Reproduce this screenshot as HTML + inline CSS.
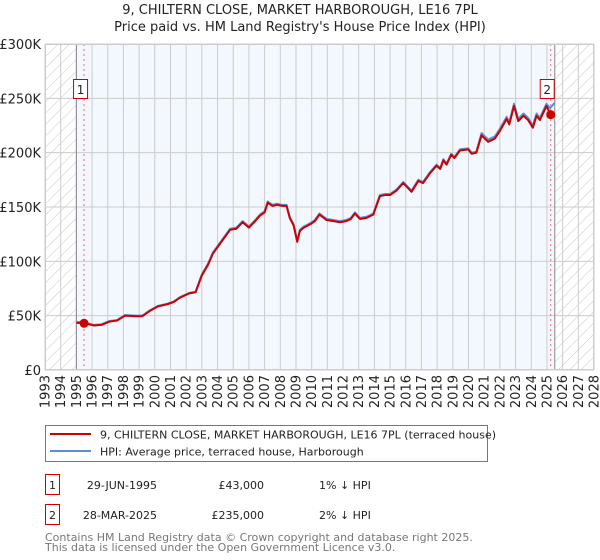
<!DOCTYPE html>
<html><head><meta charset="utf-8">
<style>
body{margin:0;background:#fff;font-family:"DejaVu Sans","Liberation Sans",sans-serif;}
#wrap{position:relative;width:600px;height:560px;overflow:hidden;}
</style></head>
<body><div id="wrap">
<svg id="svg" width="600" height="560" xmlns="http://www.w3.org/2000/svg" font-family="DejaVu Sans, Liberation Sans, sans-serif"></svg>
</div>
<script>
const hpiYears=[1995.0,1995.5,1996.1,1996.6,1997.1,1997.6,1998.1,1998.8,1999.2,1999.7,2000.2,2000.8,2001.2,2001.6,2002.2,2002.6,2003.0,2003.4,2003.7,2004.1,2004.5,2004.8,2005.2,2005.6,2006.0,2006.4,2006.7,2007.0,2007.2,2007.5,2007.8,2008.1,2008.4,2008.6,2008.85,2009.08,2009.25,2009.5,2009.9,2010.2,2010.5,2010.95,2011.4,2011.8,2012.2,2012.5,2012.76,2013.08,2013.5,2013.93,2014.35,2014.7,2015.0,2015.4,2015.84,2016.37,2016.8,2017.1,2017.54,2017.96,2018.2,2018.4,2018.6,2018.9,2019.1,2019.45,2019.98,2020.2,2020.5,2020.83,2021.25,2021.68,2022.0,2022.43,2022.6,2022.9,2023.17,2023.5,2023.8,2024.1,2024.34,2024.55,2024.97,2025.2,2025.5];
const hpiValues=[44,44,41.5,42,45,46,50.5,50,50,55,59,61,63,67,71,72,88,98,108,116,124,130,131,137,132,138,143,146,155,152,153,152,152,141,134,119,129,132,135,138,144,139,138,137,138,140,145,140,141,144,161,162,162,166,173,165,175,173,182,189,186,194,190,199,196,203,204,200,201,218,212,215,222,233,228,245,231,236,232,225,236,232,245,241,246];
const priceYears=[1995.0,1995.5,1996.1,1996.6,1997.1,1997.6,1998.1,1998.8,1999.2,1999.7,2000.2,2000.8,2001.2,2001.6,2002.2,2002.6,2003.0,2003.4,2003.7,2004.1,2004.5,2004.8,2005.2,2005.6,2006.0,2006.4,2006.7,2007.0,2007.2,2007.5,2007.8,2008.1,2008.4,2008.6,2008.85,2009.08,2009.25,2009.5,2009.9,2010.2,2010.5,2010.95,2011.4,2011.8,2012.2,2012.5,2012.76,2013.08,2013.5,2013.93,2014.35,2014.7,2015.0,2015.4,2015.84,2016.37,2016.8,2017.1,2017.54,2017.96,2018.2,2018.4,2018.6,2018.9,2019.1,2019.45,2019.98,2020.2,2020.5,2020.83,2021.25,2021.68,2022.0,2022.43,2022.6,2022.9,2023.17,2023.5,2023.8,2024.1,2024.34,2024.55,2024.97,2025.24];
const priceValues=[43.5,43,41,41.5,44.5,45.5,50,49.5,49.5,54.5,58.5,60.5,62.5,66.5,70.5,71.5,87,97,107,115,123,129,130,136,131,137,142,145,154,151,152,151,151,140,133,118,128,131,134,137,143,138,137,136,137,139,144,139,140,143,160,161,161,165,172,164,174,172,181,188,185,193,189,198,195,202,203,199,200,216,210,213,220,231,226,243,229,234,230,223,234,230,243,235];
const saleYears=[1995.49,2025.24];
const saleValues=[43,235];
const saleLabels=["1","2"];
const yTicks=[0,50,100,150,200,250,300];
const yTickLabels=["£0","£50K","£100K","£150K","£200K","£250K","£300K"];
const xMin=1993,xMax=2028;

const L=45,R=594,T=44,B=370;
const X=y=>L+(y-xMin)/(xMax-xMin)*(R-L);
const Y=v=>B-v/300*(B-T);
const svg=document.getElementById('svg');
const NS='http://www.w3.org/2000/svg';
function mk(tag,attrs,parent){const e=document.createElementNS(NS,tag);for(const k in attrs)e.setAttribute(k,attrs[k]);(parent||svg).appendChild(e);return e;}

// defs hatch
const defs=mk('defs',{});
const pat=mk('pattern',{id:'hatch',width:8,height:8,patternUnits:'userSpaceOnUse',patternTransform:'rotate(45)'},defs);
mk('line',{x1:0,y1:0,x2:0,y2:8,stroke:'#c8c8c8','stroke-width':1},pat);

// titles
let t=mk('text',{x:300,y:14,'text-anchor':'middle','font-size':13,fill:'#222'});t.textContent='9, CHILTERN CLOSE, MARKET HARBOROUGH, LE16 7PL';


t=mk('text',{x:300,y:31,'text-anchor':'middle','font-size':13,fill:'#222'});t.textContent="Price paid vs. HM Land Registry's House Price Index (HPI)";



// plot bg
let bg=mk('rect',{x:X(1995),y:T,width:X(2025.5)-X(1995),height:B-T,fill:'#f3f7fe'});


let h1=mk('rect',{x:L,y:T,width:X(1995)-L,height:B-T,fill:'url(#hatch)'});


let h2=mk('rect',{x:X(2025.5),y:T,width:R-X(2025.5),height:B-T,fill:'url(#hatch)'});



// grid
for(let yr=xMin;yr<=xMax;yr++){
  const g=mk('line',{x1:X(yr),x2:X(yr),y1:T,y2:B,stroke:'#cccccc','stroke-width':1});
  
  
  const lab=mk('text',{x:0,y:0,'font-size':13,fill:'#222','text-anchor':'end',transform:`translate(${X(yr)+4.5},${B+5}) rotate(-90)`});
  lab.textContent=yr;
  
  
}
yTicks.forEach((v,i)=>{
  const g=mk('line',{x1:L,x2:R,y1:Y(v),y2:Y(v),stroke:'#cccccc','stroke-width':1});
  
  
  const lab=mk('text',{x:L-4,y:Y(v)+5,'font-size':13,fill:'#222','text-anchor':'end'});
  lab.textContent=yTickLabels[i];
  
  
});
// boundary lines
[1995,2025.5].forEach(yr=>{
  const l=mk('line',{x1:X(yr),x2:X(yr),y1:T,y2:B,stroke:'#888','stroke-width':1});
  
  
});
// sale dashed lines
saleYears.forEach(yr=>{
  const l=mk('line',{x1:X(yr),x2:X(yr),y1:T,y2:B,stroke:'#f07070','stroke-width':1,'stroke-dasharray':'2,3'});
  
  
});
// series
const hp=mk('polyline',{points:hpiYears.map((y,i)=>X(y)+','+Y(hpiValues[i])).join(' '),fill:'none',stroke:'#5b8fd4','stroke-width':2,'stroke-linejoin':'round'});


const pp=mk('polyline',{points:priceYears.map((y,i)=>X(y)+','+Y(priceValues[i])).join(' '),fill:'none',stroke:'#cc0000','stroke-width':2,'stroke-linejoin':'round'});


// sale points and labels
saleYears.forEach((yr,i)=>{
  const c=mk('circle',{cx:X(yr),cy:Y(saleValues[i]),r:4.5,fill:'#cc0000'});
  
  
  const bx=X(yr)-10;
  const r=mk('rect',{x:bx-0.5,y:79.5,width:14,height:19,fill:'#fff',stroke:'#cc0000','stroke-width':1});
  
  
  const tt=mk('text',{x:bx+6.5,y:94,'font-size':12,fill:'#222','text-anchor':'middle'});
  tt.textContent=saleLabels[i];
  
  
});
// plot border
let pb=mk('rect',{x:L+0.5,y:T+0.5,width:R-L-1,height:B-T-1,fill:'none',stroke:'#cccccc'});



// legend
const lg=mk('g',{});


mk('rect',{x:45.5,y:425.5,width:442,height:36,fill:'#fff',stroke:'#777'},lg);
mk('line',{x1:50,x2:91,y1:434,y2:434,stroke:'#cc0000','stroke-width':2},lg);
let e=mk('text',{x:100,y:438.5,'font-size':11,fill:'#222'},lg);e.textContent='9, CHILTERN CLOSE, MARKET HARBOROUGH, LE16 7PL (terraced house)';


mk('line',{x1:50,x2:91,y1:451,y2:451,stroke:'#5b8fd4','stroke-width':2},lg);
e=mk('text',{x:100,y:455.5,'font-size':11,fill:'#222'},lg);e.textContent='HPI: Average price, terraced house, Harborough';



// table
const rows=[["1","29-JUN-1995","£43,000","1% ↓ HPI",485],["2","28-MAR-2025","£235,000","2% ↓ HPI",515]];
rows.forEach(r=>{
  const g=mk('g',{});
  
  
  mk('rect',{x:45.5,y:r[4]-10.5,width:14,height:20,fill:'#fff',stroke:'#cc0000'},g);
  let a=mk('text',{x:52.5,y:r[4]+4,'font-size':11,fill:'#222','text-anchor':'middle'},g);a.textContent=r[0];
  a=mk('text',{x:157,y:r[4]+4,'font-size':11,fill:'#222','text-anchor':'end'},g);a.textContent=r[1];
  a=mk('text',{x:264,y:r[4]+4,'font-size':11,fill:'#222','text-anchor':'end'},g);a.textContent=r[2];
  a=mk('text',{x:319,y:r[4]+4,'font-size':11,fill:'#222'},g);a.textContent=r[3];
});
let f=mk('text',{x:45,y:541,'font-size':11,fill:'#777'});f.textContent='Contains HM Land Registry data © Crown copyright and database right 2025.';


f=mk('text',{x:45,y:551,'font-size':11,fill:'#777'});f.textContent='This data is licensed under the Open Government Licence v3.0.';


</script>
</body></html>
